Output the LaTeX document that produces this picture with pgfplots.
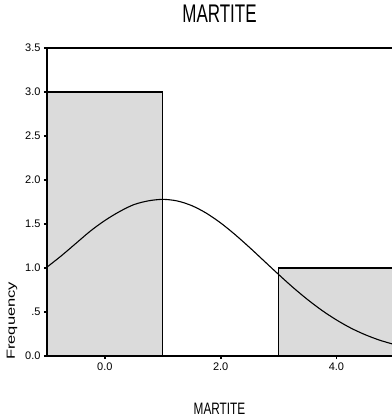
\documentclass[border=0pt]{standalone}
\usepackage{fontspec}
\setmainfont{Liberation Sans}
\usepackage{pgfplots}
\pgfplotsset{compat=1.18}
\begin{document}
\begin{tikzpicture}
\begin{axis}[
    width=345pt, height=308pt, scale only axis,
    xmin=-1, xmax=4.96, ymin=0, ymax=3.5,
    axis x line*=bottom, axis y line*=left,
    axis line style={black, line width=1.3pt, -},
    clip mode=individual,
    xtick={0,2,4}, xticklabels={0.0,2.0,4.0},
    ytick={0,0.5,1,1.5,2,2.5,3,3.5},
    yticklabels={0.0,.5,1.0,1.5,2.0,2.5,3.0,3.5},
    tick align=outside, major tick length=3pt,
    major tick style={draw=black, line width=1.8pt},
    /pgf/number format/assume math mode=true,
    tick label style={font=\fontsize{11}{11}\selectfont},
    title={\scalebox{1}[1.5]{\fontsize{17}{17}\selectfont MARTITE}},
    title style={at={(rel axis cs:0.5,1)}, anchor=center, yshift=28.5pt},
    xlabel={\scalebox{1}[1.4]{\fontsize{11.8}{11.8}\selectfont MARTITE}},
    xlabel style={at={(rel axis cs:0.5,0)}, anchor=center, yshift=-53pt},
    ylabel={\scalebox{1.4}[1]{\fontsize{11.8}{11.8}\selectfont Frequency}},
    ylabel style={at={(rel axis cs:0,0.114)}, anchor=center, yshift=35pt},
]
% histogram bins (width 2)
\addplot[ybar interval, fill=gray!28, draw=black, line width=1.1pt]
    coordinates {(-1,3) (1,3)};
\addplot[ybar interval, fill=gray!28, draw=black, line width=1.1pt]
    coordinates {(3,1) (5,1)};
% normal curve
\addplot[smooth, black, line width=1.1pt] coordinates {
    (-1.0,1.01) (-0.75,1.14) (-0.5,1.28) (-0.25,1.42) (0.0,1.54)
    (0.25,1.64) (0.5,1.72) (0.75,1.763) (1.0,1.78) (1.25,1.762)
    (1.5,1.709) (1.75,1.624) (2.0,1.512) (2.25,1.379) (2.5,1.233)
    (2.75,1.080) (3.0,0.927) (3.25,0.779) (3.5,0.642) (3.75,0.518)
    (4.0,0.410) (4.25,0.317) (4.5,0.241) (4.75,0.179) (5.0,0.131)
};
% top frame line
\draw[black, line width=1.3pt] (rel axis cs:0,1) -- (rel axis cs:1,1);
\coordinate (bl) at (rel axis cs:0,0);
\coordinate (tr) at (rel axis cs:1,1);
\end{axis}
\pgfresetboundingbox
\path ([shift={(-47pt,-61pt)}]bl) rectangle ([shift={(0pt,48pt)}]tr);
\end{tikzpicture}
\end{document}
